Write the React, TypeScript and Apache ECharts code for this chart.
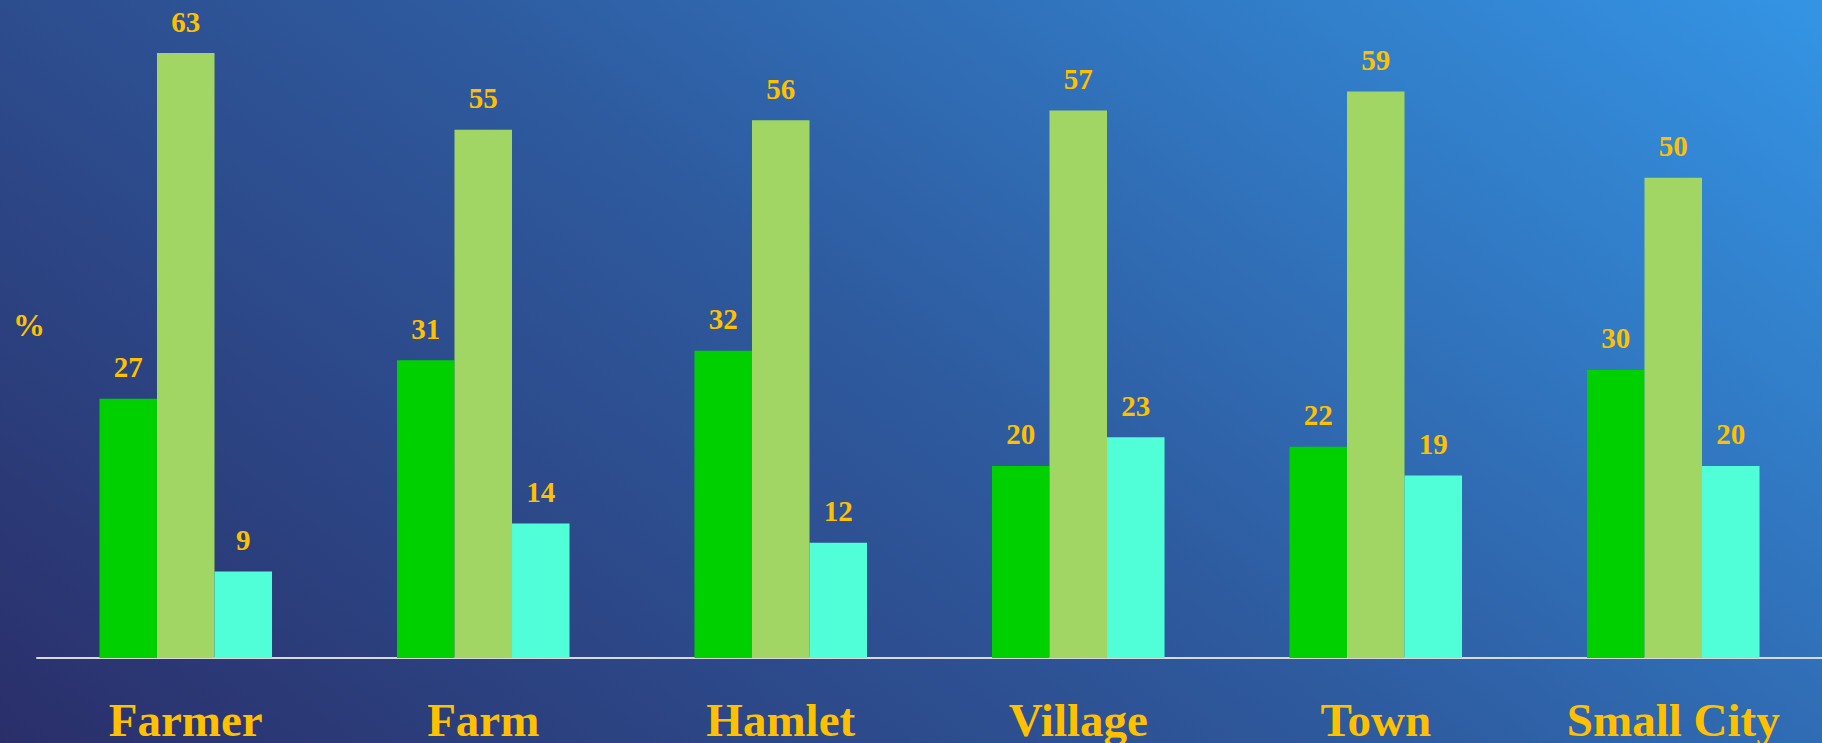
import React, { useEffect, useRef } from "react";
import * as echarts from "echarts";

const categories = ["Farmer", "Farm", "Hamlet", "Village", "Town", "Small City"];
const seriesA = [27, 31, 32, 20, 22, 30];
const seriesB = [63, 55, 56, 57, 59, 50];
const seriesC = [9, 14, 12, 23, 19, 20];
const seriesNames = ["Series 1", "Series 2", "Series 3"];
const seriesColors = ["#00d000", "#a2d664", "#50ffd8"];

const FONT = "'Liberation Serif', 'Times New Roman', serif";
const YELLOW = "#ffc000";

export default function App() {
  const ref = useRef<HTMLDivElement>(null);
  useEffect(() => {
    if (!ref.current) return;
    const chart = echarts.init(ref.current, undefined, { renderer: "svg" });
    const data = [seriesA, seriesB, seriesC];
    chart.setOption({
      animation: false,
      backgroundColor: new echarts.graphic.LinearGradient(
        0, 743, 1036, -598,
        [
          { offset: 0, color: "#2a2f6a" },
          { offset: 0.5, color: "#2e5a9e" },
          { offset: 1, color: "#3494e4" },
        ],
        true
      ),
      grid: { left: 37, right: 0, top: 53, bottom: 84 },
      xAxis: {
        type: "category",
        data: categories,
        axisLine: { lineStyle: { color: "#d9d9d9", width: 2 } },
        axisTick: { show: false },
        axisLabel: {
          color: YELLOW,
          fontFamily: FONT,
          fontWeight: "bold",
          fontSize: 47,
          margin: 38,
          interval: 0,
        },
      },
      yAxis: { type: "value", min: 0, max: 63, show: false, splitLine: { show: false } },
      graphic: [
        {
          type: "text",
          left: 13,
          top: 309,
          style: { text: "%", fill: YELLOW, font: `bold 32px ${FONT}` },
        },
      ],
      series: data.map((d, i) => ({
        name: seriesNames[i],
        type: "bar",
        data: d,
        barGap: "0%",
        barCategoryGap: "42%",
        itemStyle: { color: seriesColors[i] },
        label: {
          show: true,
          position: "top",
          distance: 17,
          color: YELLOW,
          fontFamily: FONT,
          fontWeight: "bold",
          fontSize: 29,
        },
      })),
    });
    return () => chart.dispose();
  }, []);
  return (
    <div
      ref={ref}
      style={{ position: "fixed", left: 0, top: 0, width: 1822, height: 743 }}
    />
  );
}
